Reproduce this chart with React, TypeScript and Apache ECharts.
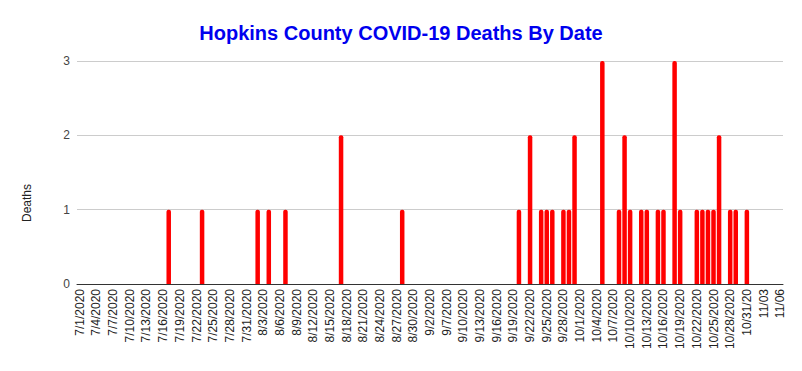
import React, { useEffect, useRef } from "react";
import * as echarts from "echarts";

const TITLE = "Hopkins County COVID-19 Deaths By Date";
const Y_NAME = "Deaths";

// Category labels (as on the sheet): daily dates with a gap around Labor Day
const julyDays = Array.from({ length: 31 }, (_, i) => `7/${i + 1}/2020`);
const augDays = Array.from({ length: 31 }, (_, i) => `8/${i + 1}/2020`);
const septEarly = ["9/1/2020", "9/2/2020", "9/3/2020", "9/4/2020"];
const septLate = Array.from({ length: 24 }, (_, i) => `9/${i + 7}/2020`);
const octDays = Array.from({ length: 30 }, (_, i) => `10/${i + 1}/2020`);
const tailLabels = ["10/31/20", "11/01", "11/02", "11/03", "11/04", "11/05", "11/06"];
const categories = [...julyDays, ...augDays, ...septEarly, ...septLate, ...octDays, ...tailLabels];

// Deaths reported on each date (all other dates are 0)
const deathDates = [
  "7/17/2020", "7/23/2020", "8/2/2020", "8/4/2020", "8/7/2020", "8/17/2020", "8/28/2020",
  "9/20/2020", "9/22/2020", "9/24/2020", "9/25/2020", "9/26/2020", "9/28/2020", "9/29/2020",
  "9/30/2020", "10/5/2020", "10/8/2020", "10/9/2020", "10/10/2020", "10/12/2020", "10/13/2020",
  "10/15/2020", "10/16/2020", "10/18/2020", "10/19/2020", "10/22/2020", "10/23/2020",
  "10/24/2020", "10/25/2020", "10/26/2020", "10/28/2020", "10/29/2020", "10/31/20",
];
const deathCounts = [
  1, 1, 1, 1, 1, 2, 1,
  1, 2, 1, 1, 1, 1, 1,
  2, 3, 1, 2, 1, 1, 1,
  1, 1, 3, 1, 1, 1,
  1, 1, 2, 1, 1, 1,
];

const FONT = "'Liberation Sans', Arial, sans-serif";

export default function App() {
  const ref = useRef<HTMLDivElement>(null);

  useEffect(() => {
    if (!ref.current) return;
    const chart = echarts.init(ref.current, undefined, { renderer: "svg" });
    const lookup: Record<string, number> = {};
    deathDates.forEach((d, i) => (lookup[d] = deathCounts[i]));
    const values = categories.map((c) => lookup[c] ?? 0);

    chart.setOption({
      animation: false,
      backgroundColor: "#ffffff",
      textStyle: { fontFamily: FONT },
      title: {
        text: TITLE,
        left: "center",
        top: 18,
        textStyle: { color: "#0000ee", fontSize: 20, fontWeight: "bold", fontFamily: FONT },
      },
      graphic: [
        {
          type: "text",
          x: 27,
          y: 203,
          rotation: Math.PI / 2,
          style: {
            text: Y_NAME,
            fill: "#222222",
            font: `12px ${FONT}`,
            align: "center",
            verticalAlign: "middle",
          },
        },
      ],
      grid: { left: 77, right: 19, top: 61, bottom: 87, containLabel: false },
      xAxis: {
        type: "category",
        data: categories,
        boundaryGap: true,
        axisLine: { show: true, lineStyle: { color: "#333333", width: 1 } },
        axisTick: { show: false },
        axisLabel: {
          interval: 2,
          rotate: 90,
          fontSize: 12,
          color: "#222222",
          margin: 5,
          fontFamily: FONT,
        },
        splitLine: { show: false },
      },
      yAxis: {
        type: "value",
        min: 0,
        max: 3,
        interval: 1,
        axisLine: { show: false },
        axisTick: { show: false },
        axisLabel: { fontSize: 12, color: "#444444", margin: 7, fontFamily: FONT },
        splitLine: { show: true, lineStyle: { color: "#cccccc", width: 1 } },
      },
      series: [
        {
          type: "bar",
          data: values,
          barWidth: 4.5,
          itemStyle: { color: "#ff0000", borderRadius: [2, 2, 0, 0] },
        },
      ],
    });

    return () => chart.dispose();
  }, []);

  return (
    <div
      ref={ref}
      style={{ position: "absolute", left: 0, top: 0, width: 802, height: 371 }}
    />
  );
}
